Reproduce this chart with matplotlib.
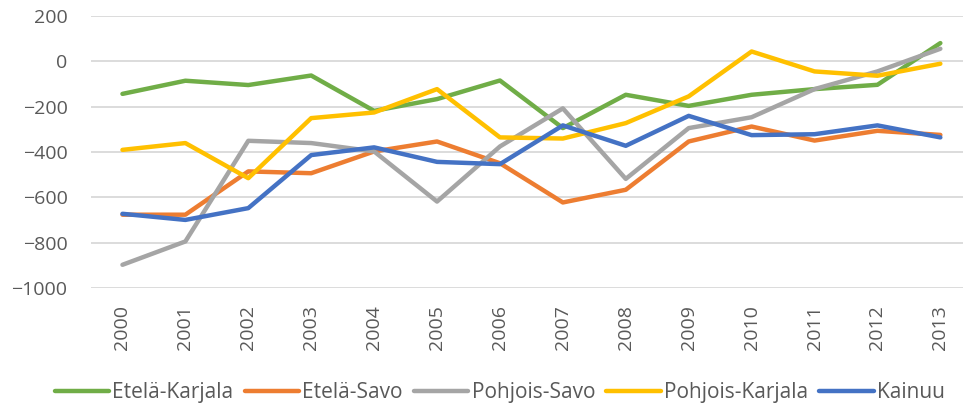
import numpy as np
import matplotlib.pyplot as plt

# Years and series values
years = [str(y) for y in range(2000, 2014)]
etela_karjala = [-143, -85, -104, -62, -218, -166, -84, -294, -147, -196, -147, -122, -103, 81]
etela_savo = [-676, -676, -485, -493, -397, -353, -449, -622, -566, -353, -287, -349, -306, -324]
pohjois_savo = [-897, -794, -350, -360, -397, -618, -375, -207, -518, -294, -246, -122, -44, 56]
pohjois_karjala = [-390, -360, -515, -250, -225, -122, -335, -340, -272, -154, 44, -44, -63, -10]
kainuu = [-672, -699, -647, -413, -379, -443, -453, -282, -372, -240, -325, -321, -282, -335]

series = [
    ("Etelä-Karjala", etela_karjala, "#70AD47"),
    ("Etelä-Savo", etela_savo, "#ED7D31"),
    ("Pohjois-Savo", pohjois_savo, "#A5A5A5"),
    ("Pohjois-Karjala", pohjois_karjala, "#FFC000"),
    ("Kainuu", kainuu, "#4472C4"),
]

plt.rcParams['font.family'] = ['Open Sans', 'DejaVu Sans']

fig = plt.figure(figsize=(9.63, 4.03), dpi=100)
ax = fig.add_axes([0.0945, 0.285, 0.9055, 0.675])

x = np.arange(len(years))
for name, vals, col in series:
    ax.plot(x, vals, color=col, lw=3.2, label=name, solid_capstyle='round', solid_joinstyle='round')

ax.set_ylim(-1000, 200)
ax.set_yticks(np.arange(-1000, 201, 200))
ax.set_xlim(-0.5, 13.36)
ax.set_xticks(x)
ax.set_xticklabels(years, rotation=90)
ax.grid(axis='y', color='#D9D9D9', lw=1.3)
ax.set_axisbelow(True)
for s in ax.spines.values():
    s.set_visible(False)
ax.tick_params(axis='both', length=0, labelsize=14, labelcolor='#595959')
ax.tick_params(axis='x', pad=12)
ax.tick_params(axis='y', pad=17)

fig.legend(loc='center', bbox_to_anchor=(0.519, 0.025), ncol=5, frameon=False,
           fontsize=15, labelcolor='#595959', handlelength=2.6, handletextpad=0.15,
           columnspacing=0.55, borderpad=0, borderaxespad=0)

fig.savefig("out.png", dpi=100)
